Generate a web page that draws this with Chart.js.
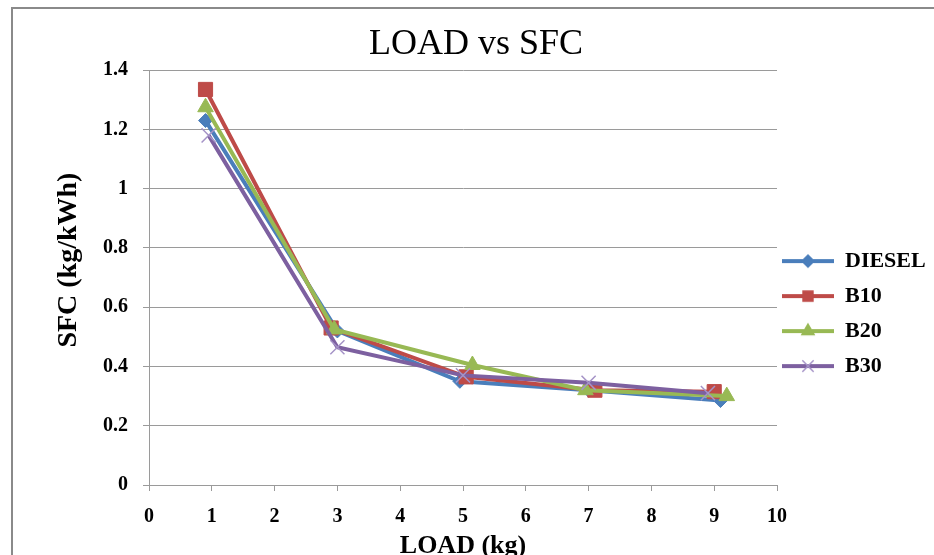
<!DOCTYPE html>
<html>
<head>
<meta charset="utf-8">
<title>LOAD vs SFC</title>
<script src="https://cdn.jsdelivr.net/npm/chart.js@4.4.0/dist/chart.umd.min.js"></script>
<style>
  html, body { margin: 0; padding: 0; background: #fff; }
  #wrap { position: relative; width: 934px; height: 555px; overflow: hidden; }
  #frame { position: absolute; left: 11px; top: 7px; right: -10px; bottom: -10px;
           border-left: 2px solid #8a8a8a; border-top: 2px solid #8a8a8a; pointer-events: none; }
</style>
</head>
<body>
<div id="wrap">
  <canvas id="chart" width="934" height="555"></canvas>
  <div id="frame"></div>
</div>
<script>
// values
const seriesNames = ['DIESEL', 'B10', 'B20', 'B30'];
const dieselLoad = [0.9, 3, 4.95, 7, 9.1];
const dieselSfc = [1.23, 0.52, 0.35, 0.32, 0.285];
const b10Load = [0.9, 2.9, 5.05, 7.1, 9];
const b10Sfc = [1.335, 0.53, 0.365, 0.32, 0.315];
const b20Load = [0.9, 2.95, 5.15, 6.95, 9.2];
const b20Sfc = [1.275, 0.525, 0.405, 0.32, 0.30];
const b30Load = [0.95, 3, 5, 7, 8.9];
const b30Sfc = [1.18, 0.465, 0.37, 0.345, 0.31];

const colors = ['#4a7ebb', '#be4b48', '#98b954', '#7d60a0'];
const markers = ['rectRot', 'rect', 'triangle', 'crossRot'];

function points(xs, ys) {
  return xs.map((x, i) => ({ x: x, y: ys[i] }));
}

// little line + marker picture for the legend
function legendSample(color, style, radius, edge) {
  const c = document.createElement('canvas');
  c.width = 52;
  c.height = 22;
  const g = c.getContext('2d');
  g.strokeStyle = color;
  g.lineWidth = 4;
  g.beginPath();
  g.moveTo(0, 11);
  g.lineTo(52, 11);
  g.stroke();
  g.fillStyle = color;
  g.strokeStyle = edge;
  g.lineWidth = 1.5;
  Chart.helpers.drawPoint(g, { pointStyle: style, radius: radius, rotation: 0, borderWidth: 1.5 }, 26, 11);
  return c;
}

const serif = 'Liberation Serif, Times New Roman, serif';

const datasets = [
  { label: seriesNames[0], data: points(dieselLoad, dieselSfc), pointStyle: markers[0], pointRadius: 7, order: 3 },
  { label: seriesNames[1], data: points(b10Load, b10Sfc), pointStyle: markers[1], pointRadius: 10, order: 2 },
  { label: seriesNames[2], data: points(b20Load, b20Sfc), pointStyle: markers[2], pointRadius: 9, order: 1 },
  { label: seriesNames[3], data: points(b30Load, b30Sfc), pointStyle: markers[3], pointRadius: 10, order: 0 }
].map((d, i) => Object.assign(d, {
  borderColor: colors[i],
  backgroundColor: colors[i],
  borderWidth: 4,
  pointBackgroundColor: colors[i],
  pointBorderColor: i === 3 ? '#a593c7' : colors[i],
  pointBorderWidth: i === 3 ? 1.5 : 1,
  pointHoverRadius: d.pointRadius,
  tension: 0,
  fill: false
}));

const legendRadius = [6, 7, 7, 8];

new Chart(document.getElementById('chart').getContext('2d'), {
  type: 'line',
  data: { datasets: datasets },
  options: {
    responsive: false,
    animation: false,
    layout: { padding: 0 },
    plugins: {
      title: {
        display: true,
        text: '  LOAD vs SFC',
        color: '#000',
        font: { family: serif, size: 36, weight: 'normal', lineHeight: 1.2 },
        padding: { top: 23, bottom: 4 }
      },
      legend: {
        position: 'right',
        align: 'center',
        fullSize: false,
        maxWidth: 157,
        title: { display: true, text: '', font: { size: 10, lineHeight: 1 }, padding: { top: 35, bottom: 35 } },
        labels: {
          usePointStyle: true,
          pointStyleWidth: 52,
          padding: 5,
          color: '#000',
          font: { family: serif, size: 22, weight: 'bold', lineHeight: 30 / 22 },
          generateLabels: (chart) => chart.data.datasets.map((ds, i) => ({
            text: [ds.label],
            fontColor: '#000',
            pointStyle: legendSample(colors[i], markers[i], legendRadius[i], i === 3 ? '#a593c7' : colors[i]),
            fillStyle: colors[i],
            strokeStyle: colors[i],
            lineWidth: 0,
            hidden: false,
            datasetIndex: i
          }))
        }
      },
      tooltip: { enabled: false }
    },
    scales: {
      x: {
        type: 'linear',
        min: 0,
        max: 10,
        afterFit: (scale) => { scale.height = 70; },
        ticks: {
          stepSize: 1,
          padding: 14,
          color: '#000',
          font: { family: serif, size: 20, weight: 'bold' }
        },
        grid: { drawOnChartArea: false, drawTicks: true, tickLength: 6, color: '#9a9a9a' },
        border: { display: true, color: '#9a9a9a', width: 1 },
        title: {
          display: true,
          text: 'LOAD (kg)',
          color: '#000',
          font: { family: serif, size: 26, weight: 'bold', lineHeight: 0.6 },
          padding: { top: 0, bottom: 1 }
        }
      },
      y: {
        min: 0,
        max: 1.4,
        afterFit: (scale) => { scale.width = 149; },
        ticks: {
          stepSize: 0.2,
          padding: 15,
          color: '#000',
          font: { family: serif, size: 20, weight: 'bold' },
          callback: (v) => String(Number(v.toFixed(1)))
        },
        grid: { drawOnChartArea: true, drawTicks: true, tickLength: 6, color: '#9a9a9a', lineWidth: 1 },
        border: { display: true, color: '#9a9a9a', width: 1 },
        title: {
          display: true,
          text: '     SFC (kg/kWh)',
          color: '#000',
          font: { family: serif, size: 28, weight: 'bold', lineHeight: 1.2 },
          padding: { top: 52, bottom: 0 }
        }
      }
    }
  }
});
</script>
</body>
</html>
